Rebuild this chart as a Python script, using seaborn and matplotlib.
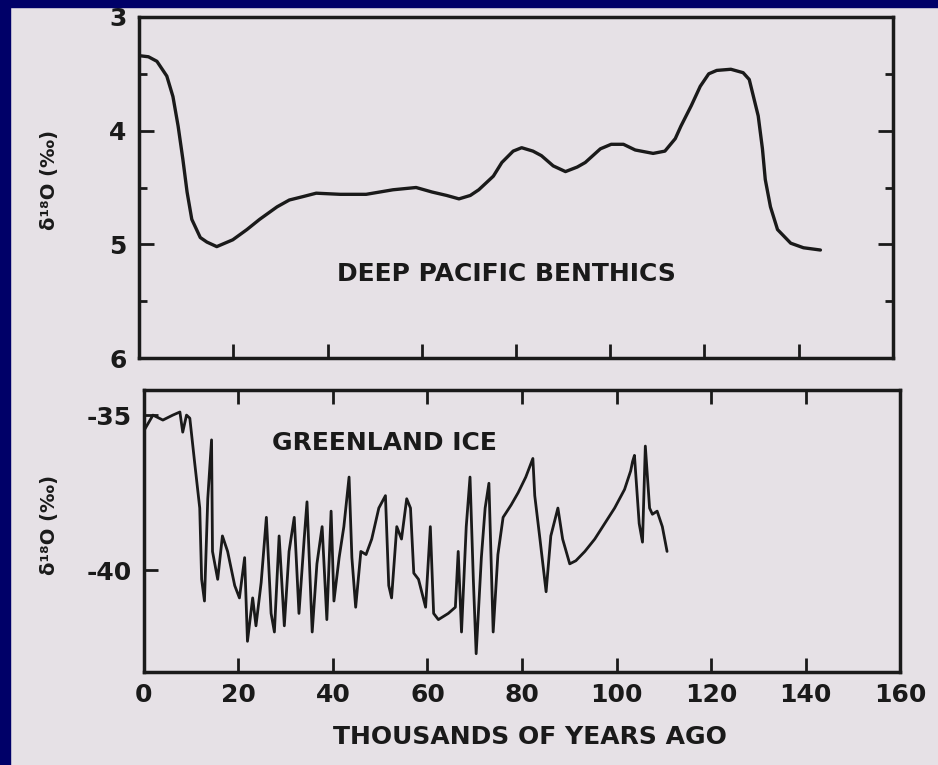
import seaborn as sns
import matplotlib.pyplot as plt
from matplotlib.patches import Rectangle
from matplotlib.ticker import FixedLocator

# deep pacific benthic d18O (per mil) vs age (kyr)
benthic_age = [0, 2.0, 3.8, 5.9, 7.2, 8.3, 9.3, 10.2, 11.2, 13.0, 14.4, 16.5,
               19.9, 22.9, 25.6, 29.3, 31.9, 34.8, 37.6, 42.7, 48.2, 53.9, 58.8,
               62.2, 65.3, 67.9, 70.3, 72.1, 75.2, 77.0, 79.4, 81.2, 83.6, 85.4,
               87.9, 90.5, 93.0, 94.7, 97.9, 100.2, 102.8, 105.3, 109.1, 111.6,
               113.8, 115.0, 117.2, 119.1, 120.9, 122.6, 125.6, 128.2, 129.5,
               131.4, 132.3, 132.9, 134.0, 135.5, 138.3, 141.0, 144.6]
benthic_d18o = [3.34, 3.35, 3.39, 3.52, 3.70, 3.96, 4.25, 4.54, 4.78, 4.94, 4.98,
                5.02, 4.96, 4.87, 4.78, 4.67, 4.61, 4.58, 4.55, 4.56, 4.56, 4.52,
                4.50, 4.54, 4.57, 4.60, 4.57, 4.52, 4.40, 4.28, 4.18, 4.15, 4.18,
                4.22, 4.31, 4.36, 4.32, 4.28, 4.16, 4.12, 4.12, 4.17, 4.20, 4.18,
                4.07, 3.96, 3.78, 3.61, 3.50, 3.47, 3.46, 3.49, 3.55, 3.87, 4.16,
                4.43, 4.67, 4.87, 4.99, 5.03, 5.05]

# greenland ice core d18O (per mil)
greenland_age = [0.0, 1.9, 4.0, 6.1, 7.6, 8.2, 9.0, 9.7, 10.7, 11.8, 12.2, 12.8,
                 13.5, 14.3, 14.5, 15.6, 16.6, 17.7, 19.2, 20.2, 21.3, 21.9, 23.0,
                 23.7, 24.8, 25.9, 26.9, 27.6, 28.6, 29.7, 30.7, 31.8, 32.8, 33.9,
                 34.5, 35.6, 36.6, 37.7, 38.7, 39.6, 40.2, 41.3, 42.3, 43.4, 44.0,
                 44.8, 45.9, 47.0, 48.2, 49.7, 51.1, 51.8, 52.4, 53.5, 54.5, 55.6,
                 56.4, 57.1, 58.1, 59.6, 60.6, 61.3, 62.3, 64.4, 65.9, 66.5, 67.2,
                 68.2, 69.0, 69.7, 70.3, 71.4, 72.2, 73.0, 73.9, 74.9, 76.0, 77.7,
                 79.2, 80.8, 82.3, 82.7, 83.8, 85.1, 86.1, 87.6, 88.6, 90.1, 91.4,
                 93.3, 95.4, 97.5, 99.6, 101.7, 103.0, 103.4, 103.8, 104.8, 105.5,
                 106.1, 107.0, 107.6, 108.6, 109.7, 110.7]
greenland_d18o = [-35.5, -35.0, -35.16, -35.0, -34.9, -35.55, -35.0, -35.1, -36.5,
                  -38.0, -40.3, -41.0, -37.7, -35.8, -39.4, -40.3, -38.9, -39.4,
                  -40.5, -40.9, -39.6, -42.3, -40.9, -41.8, -40.4, -38.3, -41.4,
                  -42.0, -38.9, -41.8, -39.4, -38.3, -41.4, -39.0, -37.8, -42.0,
                  -39.8, -38.6, -41.6, -38.1, -41.0, -39.6, -38.6, -37.0, -39.6,
                  -41.2, -39.4, -39.5, -39.0, -38.0, -37.6, -40.5, -40.9, -38.6,
                  -39.0, -37.7, -38.0, -40.1, -40.3, -41.2, -38.6, -41.4, -41.6,
                  -41.4, -41.2, -39.4, -42.0, -38.6, -37.0, -40.3, -42.7, -39.6,
                  -38.0, -37.2, -42.0, -39.5, -38.3, -37.9, -37.5, -37.0, -36.4,
                  -37.6, -39.0, -40.7, -38.9, -38.0, -39.0, -39.8, -39.7, -39.4,
                  -39.0, -38.5, -38.0, -37.4, -36.8, -36.5, -36.3, -38.5, -39.1,
                  -36.0, -38.0, -38.2, -38.1, -38.6, -39.4]

x_ticks = [0, 20, 40, 60, 80, 100, 120, 140, 160]
top_yticks = [3, 4, 5, 6]
bottom_yticks = [-35, -40]
bottom_ylabels = ["-35", "-40"]

sns.set_style("ticks")
plt.rcParams["font.family"] = ["DejaVu Sans"]
plt.rcParams["font.weight"] = "bold"

paper = "#e6e1e6"
navy = "#000068"
ink = "#1a1a1a"

fig = plt.figure(figsize=(9.38, 7.65), dpi=100)
fig.patch.set_facecolor(paper)

ax1 = fig.add_axes([0.1482, 0.532, 0.8038, 0.4458])
ax2 = fig.add_axes([0.1535, 0.1216, 0.806, 0.3686])

sns.lineplot(x=benthic_age, y=benthic_d18o, ax=ax1, color=ink, lw=2.4,
             estimator=None, sort=False)
sns.lineplot(x=greenland_age, y=greenland_d18o, ax=ax2, color=ink, lw=2.0,
             estimator=None, sort=False)

for ax in (ax1, ax2):
    ax.set_facecolor("none")
    ax.set_xlim(0, 160)
    for s in ax.spines.values():
        s.set_visible(True)
        s.set_linewidth(2.5)
        s.set_color(ink)
    ax.set_xlabel("")
    ax.set_ylabel("")

# top panel
ax1.set_ylim(6, 3)
ax1.set_yticks(top_yticks)
ax1.yaxis.set_minor_locator(FixedLocator([3.5, 4.5, 5.5]))
ax1.set_xticks(x_ticks[1:-1])
ax1.set_xticklabels([])
ax1.tick_params(axis="y", which="both", direction="in", left=True, right=True,
                labelsize=18, pad=9, colors=ink, width=2)
ax1.tick_params(axis="y", which="major", length=11)
ax1.tick_params(axis="y", which="minor", length=6)
ax1.tick_params(axis="x", direction="in", bottom=True, top=False, length=10,
                width=2, colors=ink)
ax1.text(42, 5.26, "DEEP PACIFIC BENTHICS", fontsize=18, weight="bold",
         color=ink, va="center", ha="left")

# bottom panel
ax2.set_ylim(-43.29, -34.19)
ax2.set_yticks(bottom_yticks)
ax2.set_yticklabels(bottom_ylabels)
ax2.set_xticks(x_ticks)
ax2.set_xticklabels([str(t) for t in x_ticks])
ax2.tick_params(axis="y", direction="in", length=10, width=2, labelsize=18,
                pad=9, colors=ink)
ax2.tick_params(axis="x", direction="in", bottom=True, top=True, length=10,
                width=2, labelsize=18, pad=8, colors=ink)
ax2.text(27, -35.9, "GREENLAND ICE", fontsize=18, weight="bold", color=ink,
         va="center", ha="left")

fig.text(50 / 938, 1 - 180 / 765, "δ¹⁸O (‰)", rotation=90, ha="center",
         va="center", fontsize=14, weight="bold", color=ink)
fig.text(50 / 938, 1 - 525 / 765, "δ¹⁸O (‰)", rotation=90, ha="center",
         va="center", fontsize=14, weight="bold", color=ink)
fig.text(530 / 938, 1 - 737 / 765, "THOUSANDS OF YEARS AGO", ha="center",
         va="center", fontsize=18, weight="bold", color=ink)

# dark blue slide border on the left and top
fig.add_artist(Rectangle((0, 0), 10 / 938, 1, transform=fig.transFigure,
                         color=navy, zorder=10))
fig.add_artist(Rectangle((0, 1 - 7 / 765), 1, 7 / 765, transform=fig.transFigure,
                         color=navy, zorder=10))

fig.savefig("out.png", dpi=100, facecolor=fig.get_facecolor())
